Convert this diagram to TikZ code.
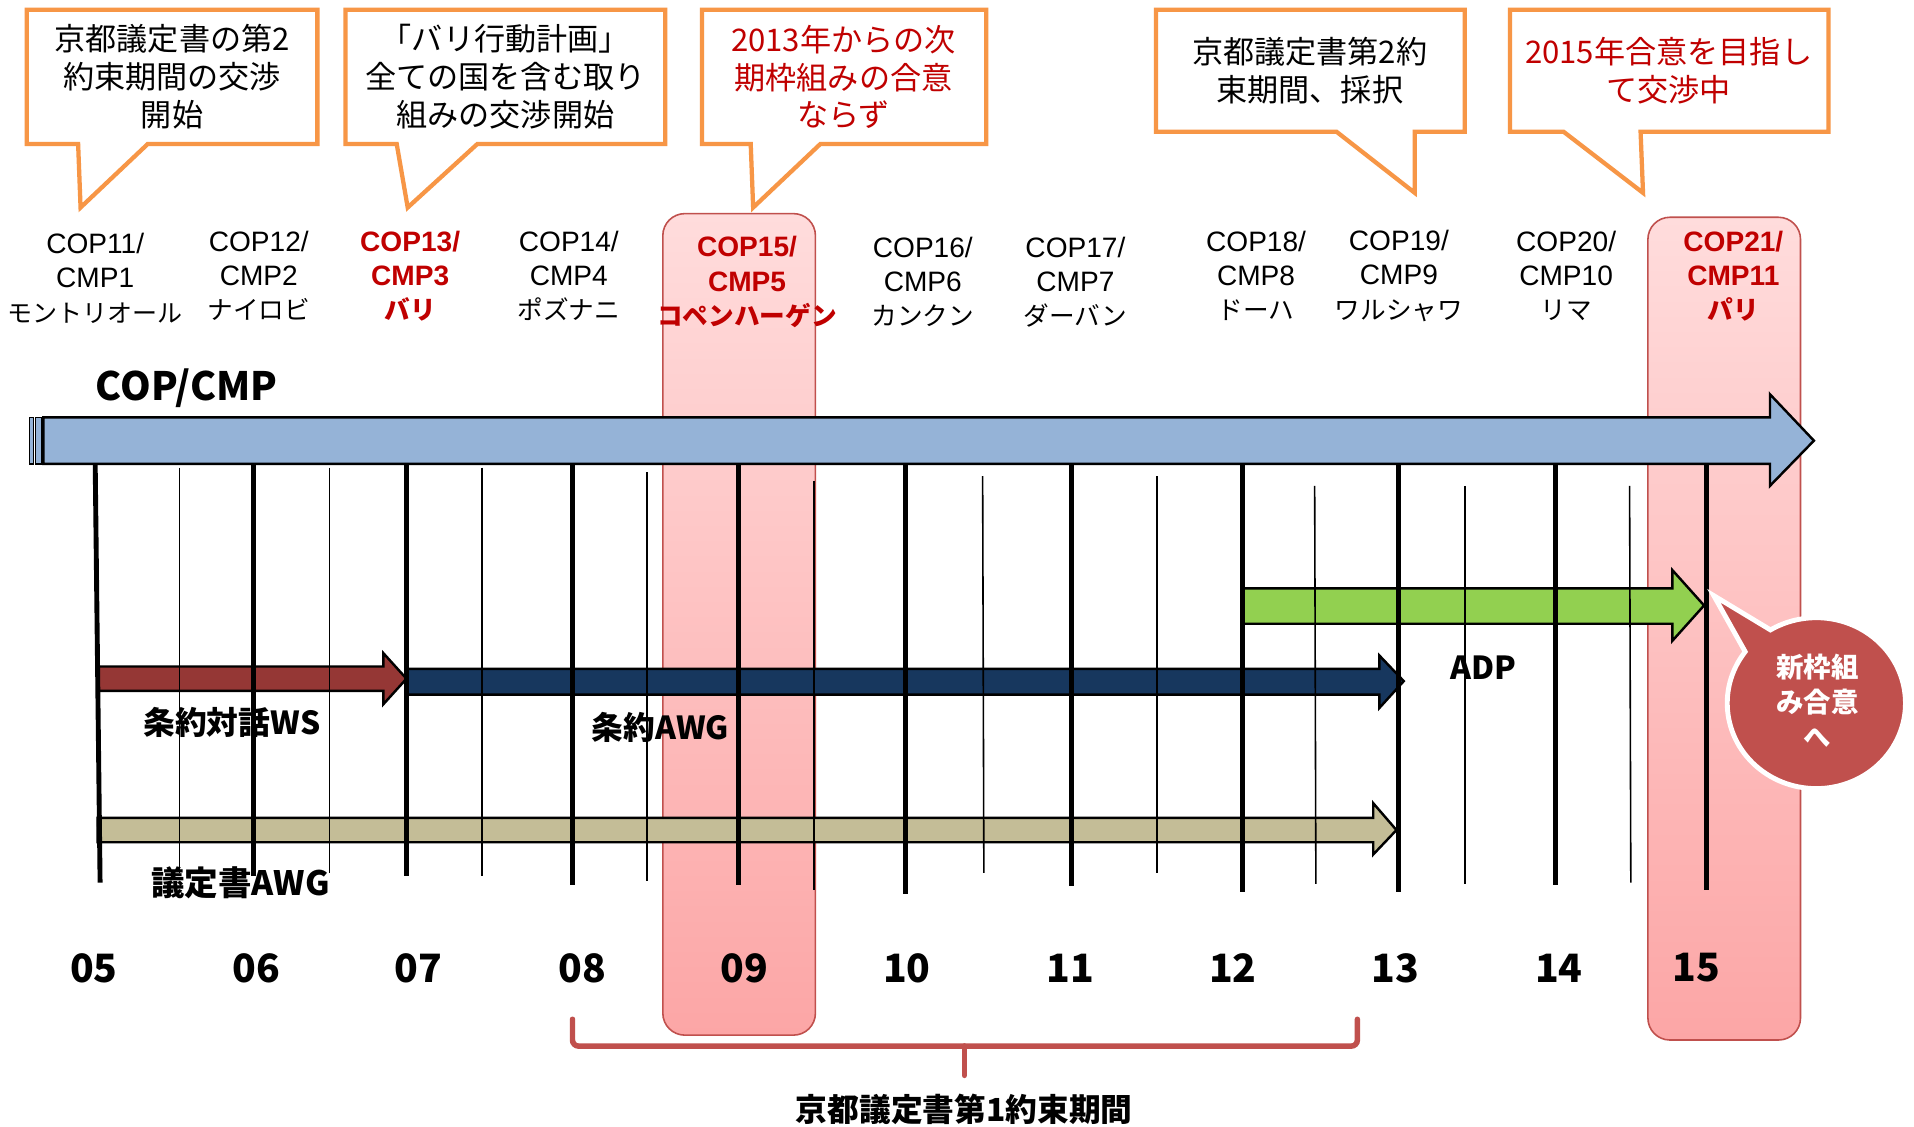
\documentclass[tikz,border=0pt]{standalone}
\usepackage{fontspec}
\setmainfont{Liberation Sans}
\newfontfamily\jpf{Noto Sans CJK JP}
\definecolor{orng}{HTML}{F79646}
\definecolor{bluA}{HTML}{95B3D7}
\definecolor{redA}{HTML}{953735}
\definecolor{navA}{HTML}{17375E}
\definecolor{grnA}{HTML}{92D050}
\definecolor{tanA}{HTML}{C4BD97}
\definecolor{redT}{HTML}{C00000}
\definecolor{pinkD}{HTML}{C0504D}
\definecolor{pinkT}{HTML}{FFDCDC}
\definecolor{pinkB}{HTML}{FCA6A6}
\begin{document}
\begin{tikzpicture}[x=1pt,y=-1pt,
  callout/.style={draw=orng,line width=3.5pt,fill=white,line join=miter},
  ctext/.style={align=center,font=\jpf\fontsize{25.5}{31}\selectfont},
  coplbl/.style={align=center,font=\fontsize{23}{28}\selectfont},
  copred/.style={coplbl,text=redT,font=\bfseries\fontsize{23}{28}\selectfont},
  jpsmall/.style={},
  yearlbl/.style={font=\jpf\bfseries\fontsize{32}{36}\selectfont},
  biglbl/.style={font=\jpf\bfseries\fontsize{26}{30}\selectfont},
  pinkcol/.style={rounded corners=18pt,top color=pinkT,bottom color=pinkB,draw=pinkD,line width=1.3pt},
  barrow/.style={draw=black,line width=2pt,line join=miter},
  thickv/.style={line width=4pt},
  thinv/.style={line width=1.3pt},
  brace/.style={draw=pinkD,line width=4.5pt,line cap=round,rounded corners=5pt}
]
\useasboundingbox[fill=white] (0,0) rectangle (1568,923);

% pink highlight columns
\path[pinkcol] (543,175) rectangle (668,848);
\path[pinkcol] (1350,178) rectangle (1475,852);

% callouts
\draw[callout] (22,8) -- (260,8) -- (260,118) -- (121,118) -- (66,170) -- (64,118) -- (22,118) -- cycle;
\node[ctext] (c1) at (141,63) {京都議定書の第2\\約束期間の交渉\\開始};
\draw[callout] (283,8) -- (545,8) -- (545,118) -- (391,118) -- (334,170) -- (325,118) -- (283,118) -- cycle;
\node[ctext] (c2) at (414,63) {「バリ行動計画」\\全ての国を含む取り\\組みの交渉開始};
\draw[callout] (575,8) -- (808,8) -- (808,118) -- (672,118) -- (617,170) -- (615,118) -- (575,118) -- cycle;
\node[ctext,text=redT] (c3) at (691,63) {2013年からの次\\期枠組みの合意\\ならず};
\draw[callout] (947,8) -- (1200,8) -- (1200,108) -- (1159,108) -- (1159,158) -- (1095,108) -- (947,108) -- cycle;
\node[ctext] (c4) at (1073,58) {京都議定書第2約\\束期間、採択};
\draw[callout] (1237,8) -- (1498,8) -- (1498,108) -- (1344,108) -- (1346,158) -- (1281,108) -- (1237,108) -- cycle;
\node[ctext,text=redT] (c5) at (1367,58) {2015年合意を目指し\\て交渉中};

% COP labels
\node[coplbl] (k11) at (78,228) {COP11/\\CMP1\\{\jpf\fontsize{20.5}{28}\selectfont モントリオール}};
\node[coplbl] (k12) at (212,226) {COP12/\\CMP2\\{\jpf\fontsize{21}{28}\selectfont ナイロビ}};
\node[copred] (k13) at (336,226) {COP13/\\CMP3\\{\jpf\bfseries\fontsize{21}{28}\selectfont バリ}};
\node[coplbl] (k14) at (466,226) {COP14/\\CMP4\\{\jpf\fontsize{21}{28}\selectfont ポズナニ}};
\node[copred] (k15) at (612,231) {COP15/\\CMP5\\{\jpf\bfseries\fontsize{21}{28}\selectfont コペンハーゲン}};
\node[coplbl] (k16) at (756,231) {COP16/\\CMP6\\{\jpf\fontsize{21}{28}\selectfont カンクン}};
\node[coplbl] (k17) at (881,231) {COP17/\\CMP7\\{\jpf\fontsize{21}{28}\selectfont ダーバン}};
\node[coplbl] (k18) at (1029,226) {COP18/\\CMP8\\{\jpf\fontsize{21}{28}\selectfont ドーハ}};
\node[coplbl] (k19) at (1146,226) {COP19/\\CMP9\\{\jpf\fontsize{21}{28}\selectfont ワルシャワ}};
\node[coplbl] (k20) at (1283,226) {COP20/\\CMP10\\{\jpf\fontsize{21}{28}\selectfont リマ}};
\node[copred] (k21) at (1420,226) {COP21/\\CMP11\\{\jpf\bfseries\fontsize{21}{28}\selectfont パリ}};

\node[font=\jpf\bfseries\fontsize{32}{36}\selectfont] (cop) at (153,318) {COP/CMP};

% blue arrow
\draw[barrow,fill=bluA,line width=1.2pt] (24,342) rectangle (27.5,380);
\draw[barrow,fill=bluA,line width=1.2pt] (29,342) rectangle (34,380);
\draw[barrow,fill=bluA] (35.5,342) -- (1450,342) -- (1450,323) -- (1486,361) -- (1450,398) -- (1450,380) -- (35.5,380) -- cycle;

% process arrows
\draw[barrow,fill=grnA] (1018,482) -- (1370,482) -- (1370,467) -- (1396,496) -- (1370,525) -- (1370,511) -- (1018,511) -- cycle;
\draw[barrow,fill=navA] (333,548) -- (1130,548) -- (1130,537) -- (1150,558) -- (1130,580) -- (1130,569) -- (333,569) -- cycle;
\draw[barrow,fill=redA] (80,546) -- (314,546) -- (314,535) -- (333,556) -- (314,577) -- (314,566) -- (80,566) -- cycle;
\draw[barrow,fill=tanA] (80,670) -- (1125,670) -- (1125,658) -- (1144,680) -- (1125,700) -- (1125,690) -- (80,690) -- cycle;

% year lines
\draw[thickv] (78,381) -- (82,723);
\draw[thickv] (208,381) -- (208,718);
\draw[thickv] (333,381) -- (333,718);
\draw[thickv] (469,381) -- (469,725);
\draw[thickv] (605,381) -- (605,725);
\draw[thickv] (742,381) -- (742,732);
\draw[thickv] (878,381) -- (878,726);
\draw[thickv] (1018,381) -- (1018,731);
\draw[thickv] (1146,381) -- (1146,731);
\draw[thickv] (1274,381) -- (1274,725);
\draw[thickv] (1398,381) -- (1398,729);
% half-year lines
\draw[thinv] (147,383) -- (147,715);
\draw[thinv] (270,383) -- (270,715);
\draw[thinv] (395,383) -- (395,718);
\draw[thinv] (530,387) -- (530,722);
\draw[thinv] (667,394) -- (667,729);
\draw[thinv] (805,390) -- (806,715);
\draw[thinv] (948,390) -- (948,715);
\draw[thinv] (1077,398) -- (1078,724);
\draw[thinv] (1200,398) -- (1200,724);
\draw[thinv] (1335,398) -- (1336,723);

% labels
\node[biglbl] (ws) at (190,592) {条約対話WS};
\node[biglbl] (awg) at (541,596) {条約AWG};
\node[biglbl,font=\jpf\bfseries\fontsize{27.5}{30}\selectfont] (kpawg) at (197,723) {議定書AWG};
\node[biglbl] (adp) at (1215,547) {ADP};

% red round callout
\draw[fill=pinkD,draw=white,line width=4pt,line join=miter] (1404,488) -- (1429.7,533.9) arc[start angle=143,end angle=481,x radius=73pt,y radius=70pt] -- cycle;
\node[align=center,text=white,font=\jpf\bfseries\fontsize{22.5}{29}\selectfont] (nf) at (1489,574) {新枠組\\み合意\\へ};

% years
\node[yearlbl] (y05) at (77,793) {05};
\node[yearlbl] (y06) at (210,793) {06};
\node[yearlbl] (y07) at (343,793) {07};
\node[yearlbl] (y08) at (477,793) {08};
\node[yearlbl] (y09) at (610,793) {09};
\node[yearlbl] (y10) at (743,793) {10};
\node[yearlbl] (y11) at (877,793) {11};
\node[yearlbl] (y12) at (1010,793) {12};
\node[yearlbl] (y13) at (1143,793) {13};
\node[yearlbl] (y14) at (1277,793) {14};
\node[yearlbl] (y15) at (1390,793) {15};

% brace
\draw[brace] (469,835) -- (469,857) -- (790,857);
\draw[brace] (1112,835) -- (1112,857) -- (790,857);
\draw[brace] (790,857) -- (790,881);
\node[font=\jpf\bfseries\fontsize{26}{28}\selectfont] (kp1) at (790,909) {京都議定書第1約束期間};
\end{tikzpicture}
\end{document}
